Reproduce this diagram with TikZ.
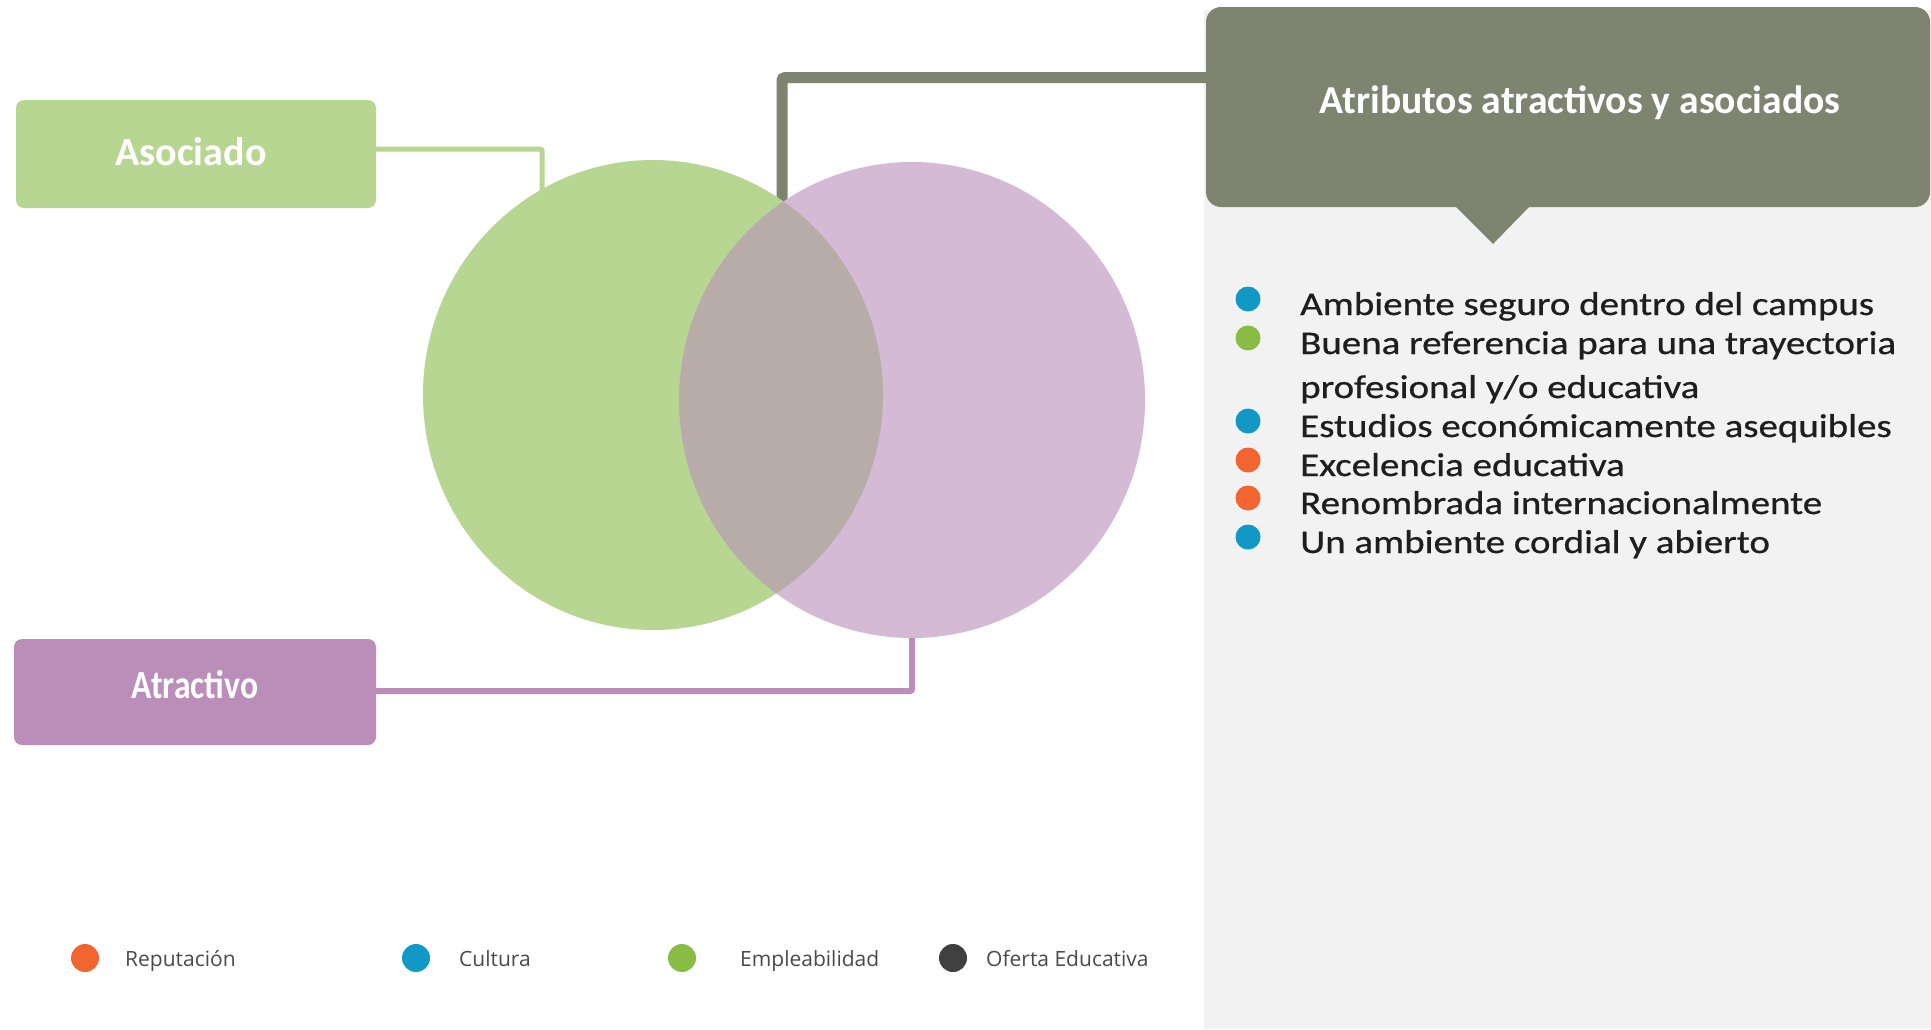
\documentclass[tikz,border=0pt]{standalone}
\usepackage{fontspec}
\setmainfont{Carlito}
\newfontfamily\titlefont{Carlito}
\newfontfamily\bulletfont{Carlito}[FakeStretch=1.18, FakeBold=0.7]
\newfontfamily\atrfont{Carlito}[FakeStretch=0.84]
\newfontfamily\legendfont{Open Sans}
\usetikzlibrary{shapes.geometric}
\definecolor{asocgreen}{HTML}{B7D692}
\definecolor{circgreen}{HTML}{B7D692}
\definecolor{circpurple}{HTML}{D5BAD5}
\definecolor{overlapc}{HTML}{B8ACA8}
\definecolor{atrpurple}{HTML}{BB8DB9}
\definecolor{callgray}{HTML}{7F8470}
\definecolor{panelgray}{HTML}{F2F2F2}
\definecolor{bodytext}{HTML}{1E1E1E}
\definecolor{legtext}{HTML}{4A4A4A}
\definecolor{dotorange}{HTML}{F26430}
\definecolor{dotblue}{HTML}{1298C4}
\definecolor{dotgreen}{HTML}{88BC45}
\definecolor{dotdark}{HTML}{404040}
\tikzset{
  labelbox/.style={rectangle, rounded corners=8pt, draw=none, inner sep=0pt},
  boxtext/.style={text=white, font=\fontsize{40}{44}\selectfont\bfseries, inner sep=0pt, anchor=base},
  gconn/.style={draw=asocgreen, line width=5pt, rounded corners=2pt},
  pconn/.style={draw=atrpurple, line width=6pt, rounded corners=2pt},
  kconn/.style={draw=callgray, line width=11pt, rounded corners=3pt},
  bullettext/.style={anchor=base west, inner sep=0pt, text=bodytext, font=\bulletfont\fontsize{33}{36}\selectfont},
  bulletdot/.style={circle, inner sep=0pt, minimum size=25pt, draw=none},
  legdot/.style={circle, inner sep=0pt, minimum size=28pt, draw=none},
  legendtext/.style={anchor=base west, inner sep=0pt, text=legtext, font=\legendfont\fontsize{21}{24}\selectfont},
}
\begin{document}
\begin{tikzpicture}[x=1pt, y=-1pt]
\useasboundingbox (0,0) rectangle (1931,1029);
\fill[white] (0,0) rectangle (1931,1029);
% right panel
\fill[panelgray] (1204,10) rectangle (1931,1029);
% callout
\node[labelbox, fill=callgray, rounded corners=15pt, minimum width=724pt, minimum height=200pt] (callout) at (1568,107) {};
\fill[callgray] (1455,206) -- (1493,244) -- (1530,206) -- cycle;
\node[anchor=base, inner sep=0pt, text=white, font=\titlefont\fontsize{39.6}{44}\selectfont\bfseries] (title) at (1580,113) {Atributos atractivos y asociados};
% label boxes
\node[labelbox, fill=asocgreen, minimum width=360pt, minimum height=108pt] (asoc) at (196,154) {};
\node[boxtext] (asoctext) at (191,165) {Asociado};
\node[labelbox, fill=atrpurple, minimum width=362pt, minimum height=106pt] (atr) at (195,692) {};
\node[boxtext, font=\atrfont\fontsize{40}{44}\selectfont\bfseries] (atrtext) at (195,698) {Atractivo};
% circles
\coordinate (lenstop) at (782,201);
\coordinate (gend) at (542,252);
\draw[gconn] ([yshift=5pt]asoc.east) -| (gend);
\draw[kconn] ([yshift=29.5pt]callout.west) -| (lenstop);
\node[ellipse, fill=circgreen, draw=none, minimum width=460pt, minimum height=470pt, inner sep=0pt] (green) at (653,395) {};
\node[ellipse, fill=circpurple, draw=none, minimum width=466pt, minimum height=476pt, inner sep=0pt] (purple) at (912,400) {};
\begin{scope}
\clip (653,395) ellipse [x radius=230pt, y radius=235pt];
\fill[overlapc] (912,400) ellipse [x radius=233pt, y radius=238pt];
\end{scope}
\draw[pconn] ([yshift=1pt]atr.east) -| (purple.south);
% bullet list
\node[bulletdot, fill=dotblue] (d1) at (1248,299) {};
\node[bullettext] (t1) at (1300,315) {Ambiente seguro dentro del campus};
\node[bulletdot, fill=dotgreen] (d2) at (1248,338) {};
\node[bullettext] (t2) at (1300,354) {Buena referencia para una trayectoria};
\node[bullettext] (t2b) at (1300,398) {profesional y/o educativa};
\node[bulletdot, fill=dotblue] (d3) at (1248,421) {};
\node[bullettext] (t3) at (1300,437) {Estudios económicamente asequibles};
\node[bulletdot, fill=dotorange] (d4) at (1248,460) {};
\node[bullettext] (t4) at (1300,476) {Excelencia educativa};
\node[bulletdot, fill=dotorange] (d5) at (1248,498) {};
\node[bullettext] (t5) at (1300,514) {Renombrada internacionalmente};
\node[bulletdot, fill=dotblue] (d6) at (1248,537) {};
\node[bullettext] (t6) at (1300,553) {Un ambiente cordial y abierto};
% legend
\node[legdot, fill=dotorange] (l1) at (85,958) {};
\node[legendtext] (lt1) at (125,966) {Reputación};
\node[legdot, fill=dotblue] (l2) at (416,958) {};
\node[legendtext] (lt2) at (459,966) {Cultura};
\node[legdot, fill=dotgreen] (l3) at (682,958) {};
\node[legendtext] (lt3) at (740,966) {Empleabilidad};
\node[legdot, fill=dotdark] (l4) at (953,958) {};
\node[legendtext] (lt4) at (986,966) {Oferta Educativa};
\end{tikzpicture}
\end{document}
